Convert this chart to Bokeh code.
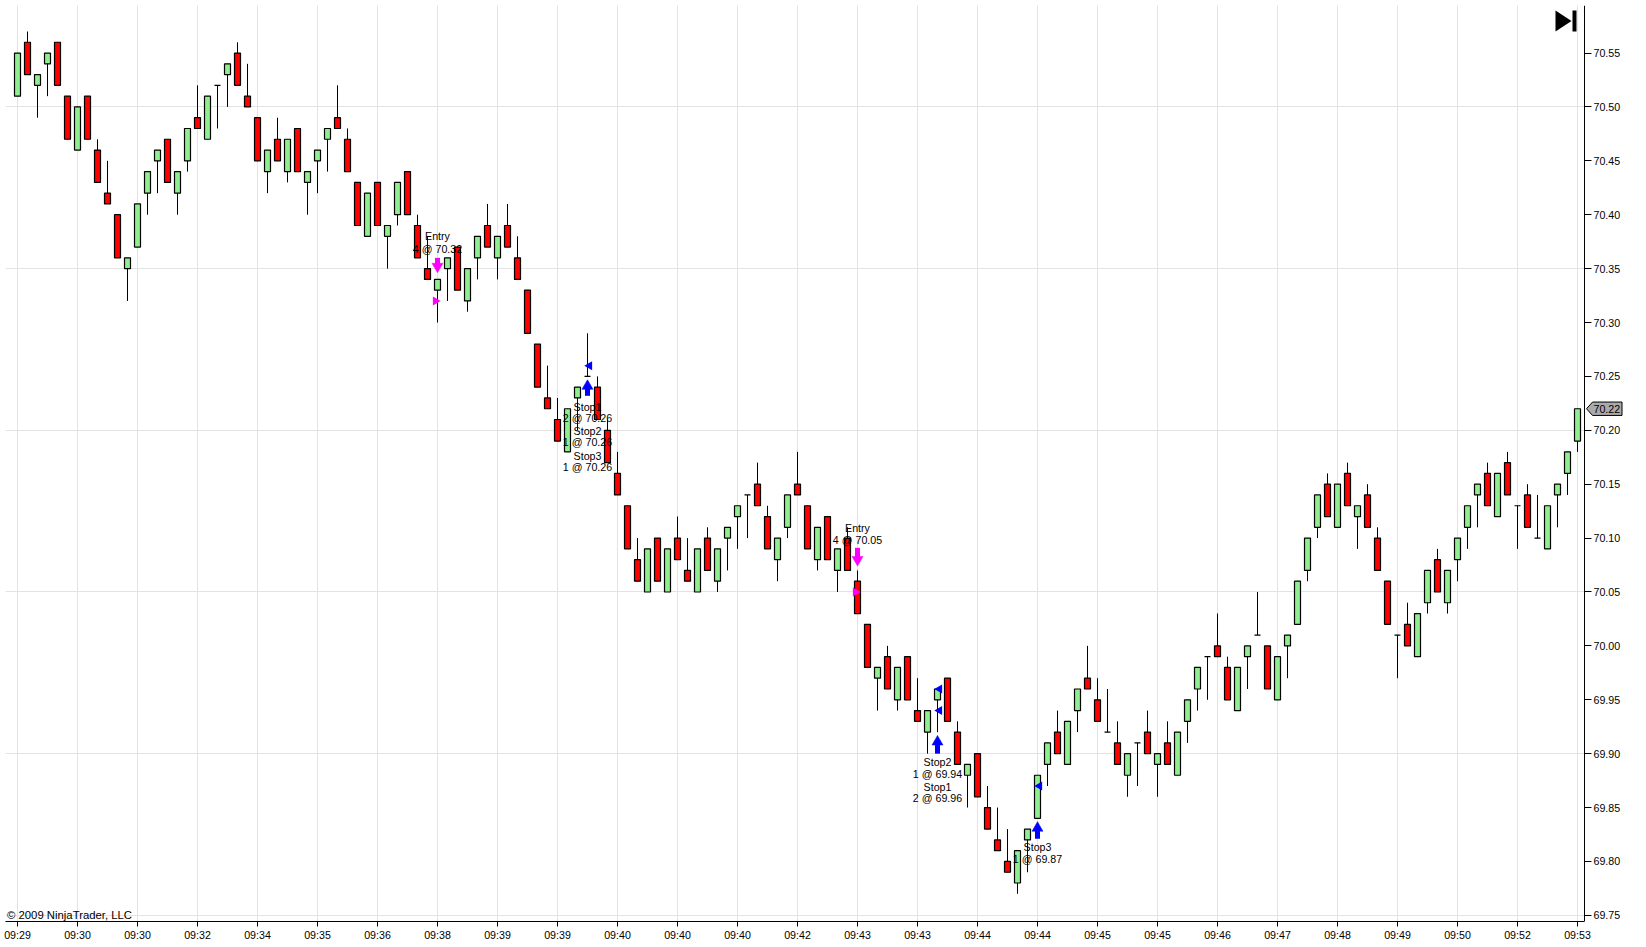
from bokeh.plotting import figure
from bokeh.embed import file_html
from bokeh.resources import INLINE
from bokeh.core.properties import value
from bokeh.models import ColumnDataSource, FixedTicker, PrintfTickFormatter
import math

opens = [70.51,70.56,70.52,70.54,70.56,70.51,70.46,70.51,70.46,70.42,70.40,70.35,70.37,70.42,70.45,70.47,70.42,70.45,70.49,70.47,
70.52,70.53,70.55,70.51,70.49,70.44,70.47,70.44,70.48,70.43,70.45,70.47,70.49,70.47,70.43,70.38,70.43,70.38,70.40,70.44,
70.39,70.35,70.33,70.35,70.37,70.32,70.36,70.39,70.36,70.39,70.36,70.33,70.28,70.23,70.21,70.18,70.23,70.25,70.24,70.20,
70.16,70.13,70.08,70.05,70.10,70.05,70.10,70.07,70.05,70.10,70.06,70.10,70.12,70.14,70.15,70.12,70.08,70.11,70.15,70.13,
70.08,70.12,70.07,70.10,70.06,70.02,69.97,69.99,69.95,69.99,69.94,69.92,69.95,69.97,69.92,69.88,69.90,69.85,69.82,69.80,
69.78,69.82,69.84,69.89,69.92,69.89,69.94,69.97,69.95,69.92,69.91,69.88,69.91,69.92,69.89,69.91,69.88,69.93,69.96,69.99,
70.00,69.98,69.94,69.99,70.01,70.00,69.95,70.00,70.02,70.07,70.11,70.15,70.11,70.16,70.12,70.14,70.10,70.06,70.01,70.02,
69.99,70.04,70.08,70.04,70.08,70.11,70.14,70.16,70.12,70.17,70.13,70.14,70.10,70.09,70.14,70.16,70.19]
highs = [70.55,70.57,70.53,70.55,70.56,70.51,70.50,70.51,70.47,70.45,70.40,70.36,70.41,70.44,70.46,70.47,70.44,70.48,70.52,70.51,
70.52,70.54,70.56,70.54,70.49,70.46,70.49,70.47,70.48,70.44,70.46,70.48,70.52,70.48,70.43,70.42,70.43,70.39,70.43,70.44,
70.40,70.38,70.34,70.36,70.37,70.35,70.38,70.41,70.38,70.41,70.38,70.33,70.28,70.26,70.23,70.22,70.24,70.29,70.25,70.21,
70.18,70.13,70.10,70.09,70.10,70.09,70.12,70.10,70.09,70.11,70.09,70.11,70.13,70.14,70.17,70.13,70.10,70.14,70.18,70.13,
70.11,70.12,70.09,70.11,70.07,70.02,69.98,70.00,69.98,69.99,69.97,69.94,69.96,69.97,69.93,69.89,69.90,69.87,69.85,69.83,
69.81,69.83,69.88,69.91,69.94,69.93,69.96,70.00,69.97,69.96,69.93,69.90,69.91,69.94,69.90,69.93,69.92,69.95,69.98,69.99,
70.03,69.99,69.98,70.00,70.05,70.00,69.99,70.01,70.06,70.10,70.14,70.16,70.15,70.17,70.13,70.15,70.11,70.06,70.01,70.04,
70.03,70.07,70.09,70.07,70.10,70.13,70.15,70.17,70.16,70.18,70.13,70.15,70.14,70.13,70.15,70.18,70.22]
lows = [70.51,70.53,70.49,70.51,70.52,70.47,70.46,70.47,70.43,70.41,70.36,70.32,70.37,70.40,70.42,70.43,70.40,70.44,70.48,70.47,
70.48,70.50,70.52,70.50,70.45,70.42,70.45,70.43,70.44,70.40,70.42,70.44,70.48,70.44,70.39,70.38,70.39,70.35,70.39,70.40,
70.36,70.34,70.30,70.32,70.33,70.31,70.34,70.37,70.34,70.37,70.34,70.29,70.24,70.22,70.19,70.18,70.20,70.25,70.21,70.17,
70.14,70.09,70.06,70.05,70.06,70.05,70.08,70.06,70.05,70.07,70.05,70.07,70.09,70.10,70.13,70.09,70.06,70.10,70.14,70.09,
70.07,70.08,70.05,70.07,70.03,69.98,69.94,69.96,69.94,69.95,69.93,69.90,69.92,69.93,69.89,69.85,69.86,69.83,69.81,69.79,
69.77,69.79,69.84,69.87,69.90,69.89,69.92,69.96,69.93,69.92,69.89,69.86,69.87,69.90,69.86,69.89,69.88,69.91,69.94,69.95,
69.99,69.95,69.94,69.96,70.01,69.96,69.95,69.97,70.02,70.06,70.10,70.12,70.11,70.13,70.09,70.11,70.07,70.02,69.97,70.00,
69.99,70.03,70.05,70.03,70.06,70.09,70.11,70.13,70.12,70.14,70.09,70.11,70.10,70.09,70.11,70.14,70.18]
closes = [70.55,70.53,70.53,70.55,70.52,70.47,70.50,70.47,70.43,70.41,70.36,70.36,70.41,70.44,70.46,70.43,70.44,70.48,70.48,70.51,
70.52,70.54,70.52,70.50,70.45,70.46,70.45,70.47,70.44,70.44,70.46,70.48,70.48,70.44,70.39,70.42,70.39,70.39,70.43,70.40,
70.36,70.34,70.34,70.36,70.33,70.35,70.38,70.37,70.38,70.37,70.34,70.29,70.24,70.22,70.19,70.22,70.24,70.25,70.21,70.17,
70.14,70.09,70.06,70.09,70.06,70.09,70.08,70.06,70.09,70.07,70.09,70.11,70.13,70.14,70.13,70.09,70.10,70.14,70.14,70.09,
70.11,70.08,70.09,70.07,70.03,69.98,69.98,69.96,69.98,69.95,69.93,69.94,69.96,69.93,69.89,69.89,69.86,69.83,69.81,69.79,
69.81,69.83,69.88,69.91,69.90,69.93,69.96,69.96,69.93,69.92,69.89,69.90,69.91,69.90,69.90,69.89,69.92,69.95,69.98,69.99,
69.99,69.95,69.98,70.00,70.01,69.96,69.99,70.01,70.06,70.10,70.14,70.12,70.15,70.13,70.13,70.11,70.07,70.02,70.01,70.00,
70.03,70.07,70.05,70.07,70.10,70.13,70.15,70.13,70.16,70.14,70.13,70.11,70.10,70.13,70.15,70.18,70.22]

x_tick_labels = ["09:29","09:30","09:30","09:32","09:34","09:35","09:36","09:38","09:39","09:39",
                 "09:40","09:40","09:40","09:42","09:43","09:43","09:44","09:44","09:45","09:45",
                 "09:46","09:47","09:48","09:49","09:50","09:52","09:53"]
bars_per_tick = 6
y_ticks = [70.55,70.50,70.45,70.40,70.35,70.30,70.25,70.20,70.15,70.10,70.05,70.00,69.95,69.90,69.85,69.80,69.75]
y_grid = [70.50,70.35,70.20,70.05,69.90,69.75]

note_bars = [42,42,57,57,57,57,57,57,84,84,92,92,92,92,102,102]
note_prices = [70.380,70.368,70.222,70.211,70.199,70.189,70.176,70.166,70.109,70.098,69.892,69.881,69.869,69.859,69.813,69.802]
note_texts = ["Entry","4 @ 70.32","Stop1","2 @ 70.26","Stop2","1 @ 70.26","Stop3","1 @ 70.26",
              "Entry","4 @ 70.05","Stop2","1 @ 69.94","Stop1","2 @ 69.96","Stop3","1 @ 69.87"]

sell_bars = [42,84]
sell_head = [70.352,70.080]
sell_tail = [70.360,70.091]
buy_bars = [57,92,102]
buy_head = [70.241,69.911,69.831]
buy_tail = [70.232,69.900,69.821]
entry_fill_bars = [42,84]
entry_fill_prices = [70.32,70.05]
exit_fill_bars = [57,92,92,102]
exit_fill_prices = [70.26,69.96,69.94,69.87]

GREEN, RED = "#90EE90", "#FF0000"
FONT = "Liberation Sans"
n = len(opens)
xs = list(range(n))
tops = [max(a, b) for a, b in zip(opens, closes)]
bots = [min(a, b) for a, b in zip(opens, closes)]
fills = [RED if c < o else GREEN for o, c in zip(opens, closes)]
src = ColumnDataSource(dict(x=xs, top=tops, bottom=bots, high=highs, low=lows, fill=fills))

XS, XE = -1.2, 162.9      # the frame runs on under the price scale, so the last-price tag is not clipped
AXIS_X = 156.7
YS, YE = 69.7443, 70.5941
p = figure(frame_width=1641, frame_height=916, x_range=(XS, XE), y_range=(YS, YE),
           output_backend="svg", toolbar_location=None, y_axis_location="right",
           min_border_left=5, min_border_top=5, min_border_right=0, min_border_bottom=24,
           background_fill_color="white", border_fill_color="white", outline_line_color=None)

xticks = [i * bars_per_tick for i in range(len(x_tick_labels))]
xa = p.xaxis[0]
xa.ticker = FixedTicker(ticks=xticks)
xa.major_label_overrides = {t: s for t, s in zip(xticks, x_tick_labels)}
xa.bounds = (XS, AXIS_X)
ya = p.yaxis[0]
ya.ticker = FixedTicker(ticks=y_ticks)
ya.formatter = PrintfTickFormatter(format="%.2f")
ya.fixed_location = AXIS_X
for a, tick_len, standoff in ((xa, 5, 2), (ya, 7, 2)):
    a.axis_line_color = "black"
    a.major_tick_line_color = "black"
    a.major_tick_out = tick_len
    a.major_tick_in = 0
    a.minor_tick_line_color = None
    a.major_label_standoff = standoff
    a.major_label_text_font = FONT
    a.major_label_text_font_size = "8pt"
    a.major_label_text_color = "black"

p.xgrid[0].ticker = FixedTicker(ticks=xticks)
p.ygrid[0].ticker = FixedTicker(ticks=y_grid)
p.xgrid[0].grid_line_color = "#e3e3e3"
p.ygrid[0].grid_line_color = "#e3e3e3"

# blank strip right of the price axis: hides the horizontal grid there
p.quad(left=[AXIS_X], right=[XE], bottom=[YS], top=[YE], fill_color="white", line_color=None)

p.segment("x", "high", "x", "low", source=src, line_color="black", line_width=1)
p.vbar("x", 0.6, "top", "bottom", source=src, fill_color="fill", line_color="black", line_width=1.2)

# execution arrows
p.segment(sell_bars, sell_tail, sell_bars, sell_head, line_color="#FF00FF", line_width=5)
p.scatter(sell_bars, sell_head, marker="inverted_triangle", size=11, fill_color="#FF00FF", line_color="#FF00FF", line_width=0.5)
p.segment(buy_bars, buy_tail, buy_bars, buy_head, line_color="#0000FF", line_width=5)
p.scatter(buy_bars, buy_head, marker="triangle", size=11, fill_color="#0000FF", line_color="#0000FF", line_width=0.5)
# fill markers
p.scatter([b - 0.2 for b in entry_fill_bars], entry_fill_prices, marker="triangle", angle=-math.pi / 2,
          size=9, fill_color="#FF00FF", line_color=None)
p.scatter([b + 0.2 for b in exit_fill_bars], exit_fill_prices, marker="triangle", angle=math.pi / 2,
          size=9, fill_color="#0000FF", line_color=None)

p.text(note_bars, note_prices, text=note_texts, text_align="center", text_baseline="middle",
       text_font=value(FONT), text_font_size="8pt", text_color="black")

p.text([-1.05], [69.7505], text=["\u00a9 2009 NinjaTrader, LLC"], text_font=value(FONT),
       text_font_size="8.5pt", text_color="black", text_baseline="middle", text_align="left")

# last price tag
last = closes[-1]
dp = 0.0062
p.patch([156.9, 157.5, 160.45, 160.45, 157.5], [last, last + dp, last + dp, last - dp, last - dp],
        fill_color="#aaaaaa", line_color="black", line_width=1)
p.text([157.6], [last], text=[f"{last:.2f}"], text_font=value(FONT), text_font_size="8pt",
       text_color="black", text_baseline="middle", text_align="left")

# jump-to-end button
top_p, bot_p = 70.5894, 70.5700
mid_p = (top_p + bot_p) / 2
p.patch([153.8, 155.4, 153.8], [top_p, mid_p, bot_p], fill_color="black", line_color=None)
p.patch([155.5, 155.9, 155.9, 155.5], [top_p, top_p, bot_p, bot_p], fill_color="black", line_color=None)

open("out.html", "w").write(file_html(p, INLINE))
